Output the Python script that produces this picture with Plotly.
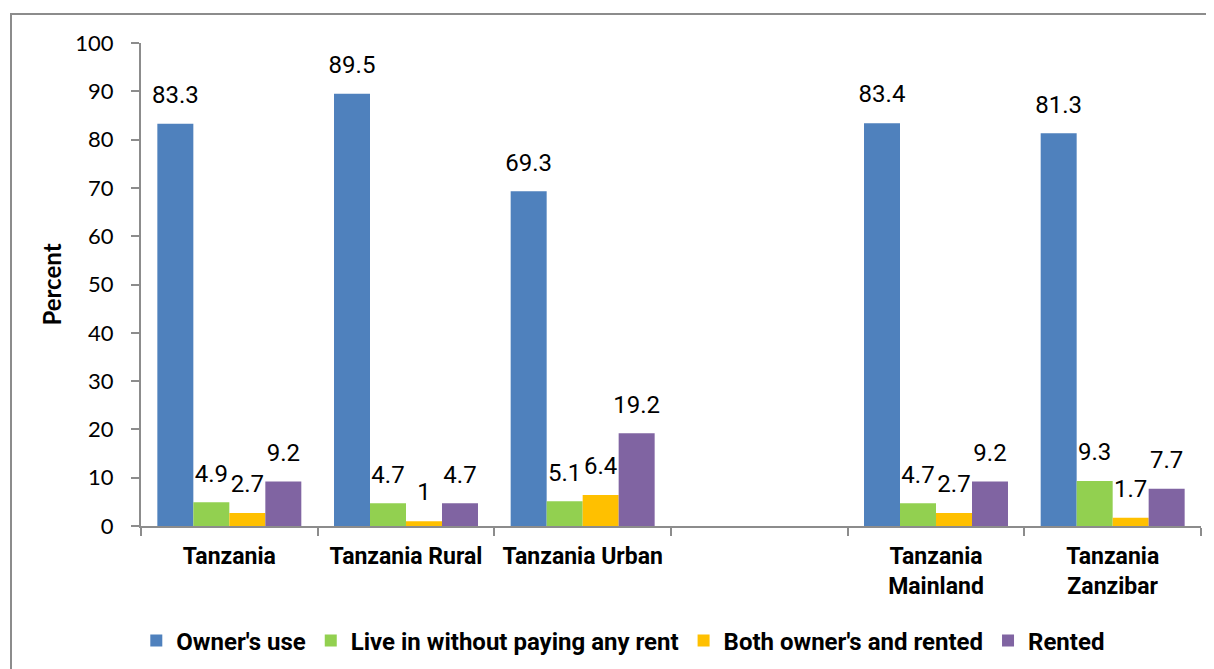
import plotly.graph_objects as go

categories = ["Tanzania", "Tanzania Rural", "Tanzania Urban", " ", "Tanzania<br>Mainland", "Tanzania<br>Zanzibar"]
series_names = ["Owner's use", "Live in without paying any rent", "Both owner's and rented", "Rented"]
owners_use = [83.3, 89.5, 69.3, None, 83.4, 81.3]
live_free = [4.9, 4.7, 5.1, None, 4.7, 9.3]
both = [2.7, 1.0, 6.4, None, 2.7, 1.7]
rented = [9.2, 4.7, 19.2, None, 9.2, 7.7]
colors = ["#4F81BD", "#92D050", "#FFC000", "#8064A2"]
y_ticks = [0, 10, 20, 30, 40, 50, 60, 70, 80, 90, 100]

def fmt(v):
    if v is None:
        return ""
    return str(int(v)) if float(v).is_integer() else f"{v}"

lab_font = "Roboto, Liberation Sans, sans-serif"
GAP = 0.185

fig = go.Figure()
for i, (name, vals, col) in enumerate(zip(series_names, [owners_use, live_free, both, rented], colors)):
    fig.add_trace(go.Bar(
        x=categories, y=vals, name=name, offsetgroup=str(i),
        marker=dict(color=col, line=dict(width=0)),
    ))
for i, (name, vals) in enumerate(zip(series_names, [owners_use, live_free, both, rented])):
    fig.add_trace(go.Scatter(
        x=categories, y=vals, name=name + " labels", offsetgroup=str(i),
        mode="markers+text", marker=dict(size=22, color="rgba(0,0,0,0)"),
        text=[fmt(v) for v in vals], textposition="top center",
        textfont=dict(family=lab_font, size=24, color="black"),
        showlegend=False, hoverinfo="skip", cliponaxis=False,
    ))

fig.update_layout(
    width=1214, height=669,
    margin=dict(l=133, r=21, t=35, b=151),
    paper_bgcolor="white", plot_bgcolor="white",
    barmode="group", bargap=GAP, bargroupgap=0,
    scattermode="group", scattergap=GAP,
    showlegend=True,
    legend=dict(orientation="h", x=0.455, xanchor="center", y=-0.238, yanchor="middle",
                font=dict(family=lab_font, size=24, color="black", weight="bold"),
                itemwidth=30, traceorder="normal"),
    xaxis=dict(type="category", showline=True, linecolor="#8c8c8c", linewidth=2,
               ticks="outside", tickson="boundaries", tickcolor="#8c8c8c", ticklen=8, tickwidth=1.5,
               ticklabelstandoff=8,
               tickfont=dict(family=lab_font, size=23, color="black", weight="bold"),
               showgrid=False),
    yaxis=dict(range=[0, 100], tickvals=y_ticks, showline=True, linecolor="#8c8c8c", linewidth=2,
               ticks="outside", tickcolor="#8c8c8c", ticklen=8, tickwidth=1.5, showgrid=False,
               zeroline=False, ticklabelstandoff=13,
               tickfont=dict(family="Lato, Carlito, sans-serif", size=22, color="black"),
               title=dict(text="Percent", font=dict(family="Lato, Carlito, sans-serif", size=24,
                                                     color="black", weight="bold"), standoff=7)),
    shapes=[dict(type="rect", xref="paper", yref="paper",
                 x0=(3 - 133) / 1060, x1=1.2, y0=-0.5, y1=(518 - 6) / 483,
                 line=dict(color="#8c8c8c", width=2), fillcolor="rgba(0,0,0,0)", layer="below")],
)

fig.write_html("out.html")
